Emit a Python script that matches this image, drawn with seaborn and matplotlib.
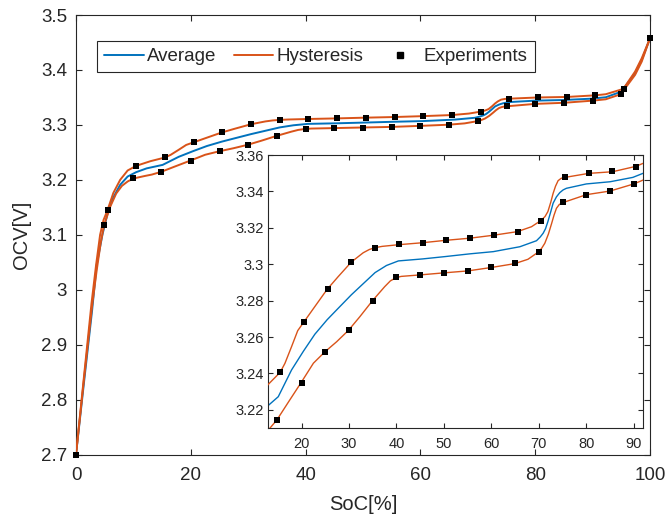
import matplotlib
matplotlib.use("Agg")
import matplotlib.pyplot as plt
from matplotlib.lines import Line2D
import numpy as np
import pandas as pd
import seaborn as sns

# ---------------- data ----------------
# Experimental points, charge (upper) branch
exp_up_soc = [0, 5.5, 10.5, 15.5, 20.5, 25.5, 30.5, 35.5, 40.5, 45.5, 50.5, 55.5,
              60.5, 65.5, 70.5, 75.5, 80.5, 85.5, 90.5, 95.4, 100]
exp_up_v = [2.700, 3.145, 3.2255, 3.2407, 3.268, 3.2863, 3.3011, 3.3091, 3.311,
            3.3119, 3.3132, 3.3143, 3.3159, 3.3177, 3.324, 3.3477, 3.3499, 3.3510,
            3.3536, 3.3655, 3.4576]
# Experimental points, discharge (lower) branch
exp_lo_soc = [0, 4.9, 10, 14.8, 20, 25, 30, 35, 40, 45, 50, 55, 60, 65, 70, 75,
              80, 85, 90, 94.9, 100]
exp_lo_v = [2.700, 3.1176, 3.2024, 3.2144, 3.235, 3.2517, 3.2636, 3.2799, 3.2927,
            3.2941, 3.2952, 3.2963, 3.2982, 3.3005, 3.3066, 3.334, 3.338, 3.3402,
            3.3439, 3.3558, 3.4576]

# Hysteresis model curve, upper branch
hys_up_soc = [0, 1.4, 2.7, 3.5, 4.2, 4.8, 5.5, 6.5, 7.7, 9.0, 10.5, 13.0, 15.5,
              16.5, 17.9, 19.2, 20.4, 22.8, 25.4, 27.7, 30.5, 33.0, 34.3, 35.5,
              37.0, 40.4, 45.5, 50.3, 55.5, 60.4, 65.5, 68.45, 70.5, 71.3, 71.9,
              72.5, 73.0, 73.5, 74.05, 74.7, 75.5, 80.5, 85.5, 90.5, 92.3, 95.35,
              97.4, 98.55, 100]
hys_up_v = [2.700, 2.843, 2.975, 3.045, 3.100, 3.127, 3.145, 3.176, 3.200, 3.217,
            3.2255, 3.234, 3.2406, 3.2455, 3.2547, 3.2635, 3.2679, 3.2767, 3.2862,
            3.2931, 3.3012, 3.3063, 3.3081, 3.3091, 3.3098, 3.3107, 3.3118, 3.3131,
            3.3143, 3.3159, 3.3179, 3.3206, 3.3241, 3.3262, 3.3289, 3.334, 3.3389,
            3.3428, 3.3459, 3.3472, 3.3477, 3.3499, 3.3508, 3.3538, 3.3558, 3.3655,
            3.397, 3.421, 3.4576]
# Hysteresis model curve, lower branch
hys_lo_soc = [0, 1.4, 2.8, 3.6, 4.3, 4.9, 6.0, 7.0, 8.0, 9.0, 10.0, 12.0, 13.2,
              14.8, 17.3, 19.9, 22.5, 24.9, 27.4, 29.9, 32.3, 34.9, 37.5, 38.7,
              39.9, 41.0, 44.9, 49.8, 55.0, 60.0, 64.9, 67.7, 69.9, 70.6, 71.25,
              72.0, 72.7, 73.2, 73.7, 74.3, 75.0, 80.0, 85.0, 90.0, 92.3, 94.9,
              97.4, 98.55, 100]
hys_lo_v = [2.700, 2.838, 2.970, 3.035, 3.085, 3.1176, 3.152, 3.175, 3.189, 3.197,
            3.2024, 3.207, 3.2095, 3.2144, 3.2245, 3.2349, 3.2456, 3.2518, 3.2574,
            3.2637, 3.2712, 3.2798, 3.2876, 3.2908, 3.2926, 3.2933, 3.2941, 3.2952,
            3.2963, 3.2982, 3.3003, 3.3027, 3.3067, 3.3088, 3.3115, 3.3165, 3.3225,
            3.327, 3.3307, 3.3328, 3.3338, 3.3382, 3.3402, 3.3441, 3.3466, 3.3558,
            3.391, 3.415, 3.4576]
# Average model curve
avg_soc = [0, 1.4, 2.8, 3.6, 4.6, 5.6, 6.5, 7.7, 9.0, 10.5, 12.3, 15.1, 17.9,
           20.4, 22.8, 25.4, 27.7, 30.5, 33.0, 35.5, 37.9, 40.4, 45.5, 50.3, 55.5,
           60.4, 66.0, 69.5, 70.3, 70.9, 71.4, 71.9, 72.5, 73.0, 73.7, 74.4, 75.1,
           75.8, 80.0, 85.0, 89.8, 92.3, 95.0, 97.4, 98.55, 100]
avg_v = [2.700, 2.832, 2.962, 3.045, 3.100, 3.143, 3.168, 3.191, 3.206, 3.214,
         3.2208, 3.2272, 3.2419, 3.2522, 3.2615, 3.2695, 3.2757, 3.2832, 3.2893,
         3.2954, 3.2993, 3.3018, 3.3029, 3.3042, 3.3057, 3.3069, 3.3096, 3.3129,
         3.315, 3.317, 3.3195, 3.3234, 3.3288, 3.3335, 3.337, 3.3393, 3.3408,
         3.3417, 3.3441, 3.3453, 3.3477, 3.3503, 3.3605, 3.394, 3.418, 3.4576]

main_xticks = [0, 20, 40, 60, 80, 100]
main_yticks = [2.7, 2.8, 2.9, 3.0, 3.1, 3.2, 3.3, 3.4, 3.5]
main_yticklabels = ["2.7", "2.8", "2.9", "3", "3.1", "3.2", "3.3", "3.4", "3.5"]
inset_xticks = [20, 30, 40, 50, 60, 70, 80, 90]
inset_yticks = [3.22, 3.24, 3.26, 3.28, 3.30, 3.32, 3.34, 3.36]
inset_yticklabels = ["3.22", "3.24", "3.26", "3.28", "3.3", "3.32", "3.34", "3.36"]
legend_labels = ["Average", "Hysteresis", "Experiments"]

# ---------------- style ----------------
sns.set_theme(style="white")
plt.rcParams["font.family"] = ["Liberation Sans", "DejaVu Sans"]
plt.rcParams["axes.linewidth"] = 0.8
DARK = "#262626"
BLUE = "#0072BD"
ORANGE = "#D95319"

W, H = 666, 522
fig = plt.figure(figsize=(W / 100, H / 100), dpi=100)
fig.patch.set_facecolor("white")


def draw(ax, lw, ms):
    sns.lineplot(x=avg_soc, y=avg_v, ax=ax, color=BLUE, linewidth=lw,
                 sort=False, estimator=None, legend=False, zorder=2)
    sns.lineplot(x=hys_up_soc, y=hys_up_v, ax=ax, color=ORANGE, linewidth=lw,
                 sort=False, estimator=None, legend=False, zorder=3)
    sns.lineplot(x=hys_lo_soc, y=hys_lo_v, ax=ax, color=ORANGE, linewidth=lw,
                 sort=False, estimator=None, legend=False, zorder=3)
    clip = ax.get_label() == "inset"
    sns.scatterplot(x=exp_up_soc, y=exp_up_v, ax=ax, marker="s", s=ms,
                    color="black", linewidth=0, legend=False, zorder=5,
                    clip_on=clip)
    sns.scatterplot(x=exp_lo_soc, y=exp_lo_v, ax=ax, marker="s", s=ms,
                    color="black", linewidth=0, legend=False, zorder=5,
                    clip_on=clip)


# ---------------- main axes ----------------
ax = fig.add_axes([76 / W, (H - 454.5) / H, 574 / W, 439.5 / H], label="main")
ax.set_facecolor("white")
draw(ax, 1.4, 17)
ax.set_xlim(0, 100)
ax.set_ylim(2.7, 3.5)
ax.set_xticks(main_xticks)
ax.set_xticklabels([str(t) for t in main_xticks])
ax.set_yticks(main_yticks)
ax.set_yticklabels(main_yticklabels)
ax.tick_params(axis="both", which="major", direction="in", length=4.3, width=0.8,
               color=DARK, labelcolor=DARK, labelsize=13.5,
               bottom=True, top=True, left=True, right=True)
ax.tick_params(axis="y", pad=6.5)
ax.tick_params(axis="x", pad=9)
for sp in ax.spines.values():
    sp.set_color(DARK)
    sp.set_linewidth(0.8)
ax.set_xlabel("SoC[%]", fontsize=14.5, color=DARK, labelpad=8)
ax.set_ylabel("OCV[V]", fontsize=14.5, color=DARK, labelpad=7)

handles = [Line2D([], [], color=BLUE, lw=1.4),
           Line2D([], [], color=ORANGE, lw=1.4),
           Line2D([], [], color="black", marker="s", markersize=4.2, ls="none")]
leg = ax.legend(handles, legend_labels, ncol=3, loc="upper left",
                bbox_to_anchor=((97 - 76) / 574, (454.5 - 41) / 439.5),
                borderaxespad=0, frameon=True, fancybox=False, framealpha=1,
                edgecolor=DARK, fontsize=13.5, handlelength=2.1,
                handletextpad=0.2, columnspacing=0.9, borderpad=0.38,
                numpoints=1)
leg.get_frame().set_linewidth(0.8)
for t in leg.get_texts():
    t.set_color(DARK)

# ---------------- inset axes ----------------
axi = fig.add_axes([268.3 / W, (H - 428) / H, 375 / W, 273 / H], label="inset")
axi.set_zorder(10)
axi.set_facecolor("white")
draw(axi, 1.0, 17)
axi.set_xlim(13, 92)
axi.set_ylim(3.21, 3.36)
axi.set_xticks(inset_xticks)
axi.set_xticklabels([str(t) for t in inset_xticks])
axi.set_yticks(inset_yticks)
axi.set_yticklabels(inset_yticklabels)
axi.tick_params(axis="both", which="major", direction="in", length=3.5, width=0.8,
                color=DARK, labelcolor=DARK, labelsize=10.5,
                bottom=True, top=True, left=True, right=True)
axi.tick_params(axis="y", pad=3.5)
axi.tick_params(axis="x", pad=6.5)
for sp in axi.spines.values():
    sp.set_color(DARK)
    sp.set_linewidth(0.8)
axi.set_xlabel("")
axi.set_ylabel("")

fig.savefig("out.png", dpi=100, facecolor="white")
